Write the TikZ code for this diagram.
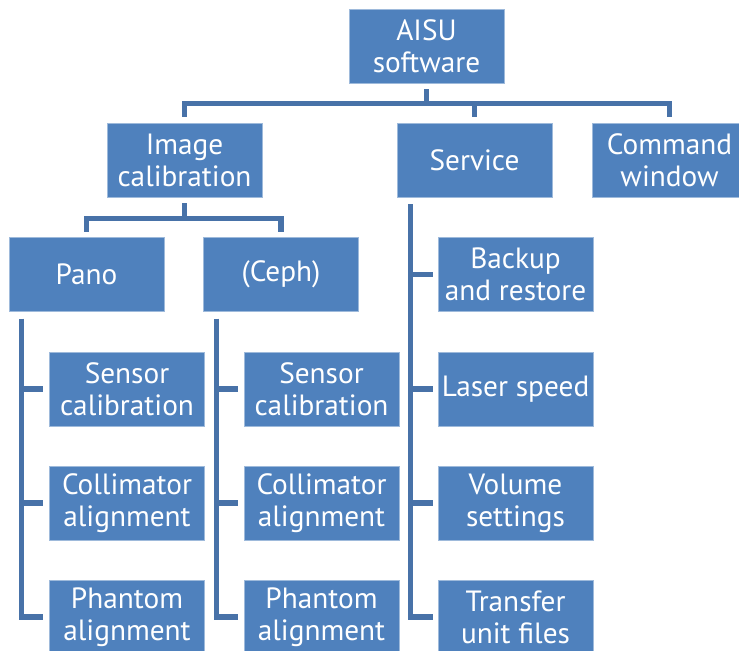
\documentclass[tikz,border=0pt]{standalone}
\usepackage{fontspec}
\setmainfont{PT Sans}
\usetikzlibrary{calc}
\definecolor{boxblue}{HTML}{4F81BD}
\definecolor{linkblue}{HTML}{4872A8}
\tikzset{
  box/.style={rectangle,fill=boxblue,draw=boxblue!55!white,line width=.6pt,
    minimum width=4.65cm,minimum height=2.22cm,inner sep=0pt,align=center,
    text=white,font=\fontsize{25}{27.3}\selectfont},
  link/.style={draw=linkblue,line width=4.3pt,line join=miter}}
\begin{document}
\begin{tikzpicture}[x=.03cm,y=-.03cm]
\useasboundingbox (0,0) rectangle (739,650);
% top levels
\node[box] (root) at (426.5,46.5) {AISU\\software};
\node[box] (imgcal) at (184.5,160.5) {Image\\calibration};
\node[box] (service) at (474.5,160.5) {Service};
\node[box] (cmdwin) at (669.5,160.5) {Command\\window};
\node[box] (pano) at (86.5,274.5) {Pano};
\node[box] (ceph) at (281,274.5) {(Ceph)};
% calibration steps, same for both
\foreach \col/\x in {pano/127,ceph/321.5} {
  \node[box] (\col-sensor) at (\x,389) {Sensor\\calibration};
  \node[box] (\col-collim) at (\x,503) {Collimator\\alignment};
  \node[box] (\col-phantom) at (\x,617) {Phantom\\alignment};
}
% service tools
\node[box] (backup) at (515.5,274.5) {Backup\\and restore};
\node[box] (laser) at (515.5,389) {Laser speed};
\node[box] (volume) at (515.5,503) {Volume\\settings};
\node[box] (transfer) at (515.5,617) {Transfer\\unit files};
% links
\foreach \c in {imgcal,service,cmdwin}
  \draw[link,shorten <=4.6pt,shorten >=5pt] (root.south) -- ++(0,20) -| (\c.north);
\foreach \c in {pano,ceph}
  \draw[link,shorten <=4.6pt,shorten >=4.5pt] (imgcal.south) -- ++(0,20.5) -| (\c.north);
\foreach \col in {pano,ceph}
  \foreach \c in {sensor,collim,phantom}
    \draw[link,shorten <=6pt,shorten >=5pt] ($(\col.south west)+(13,0)$) |- (\col-\c.west);
\foreach \c in {backup,laser,volume,transfer}
  \draw[link,shorten <=5.5pt,shorten >=4.3pt] ($(service.south west)+(14,0)$) |- (\c.west);
\end{tikzpicture}
\end{document}
